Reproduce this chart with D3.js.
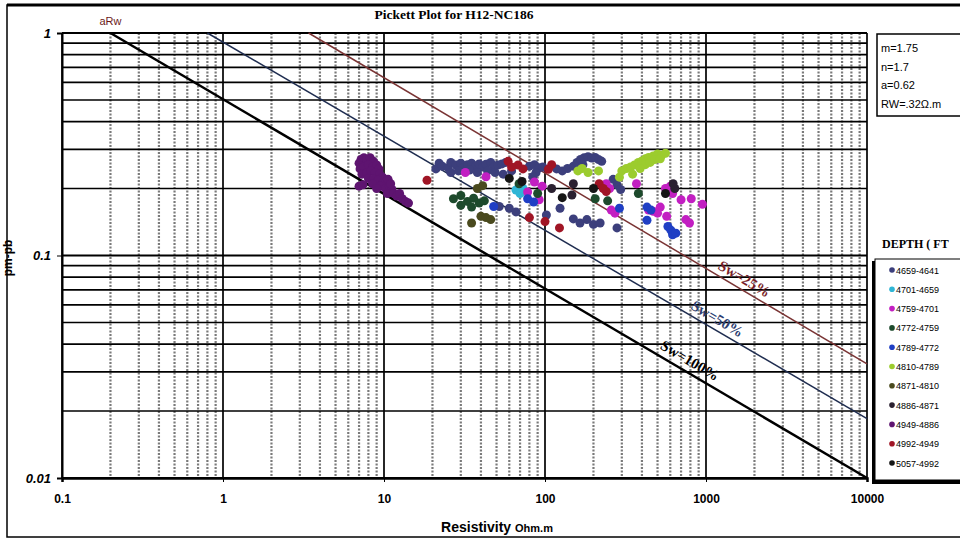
<!DOCTYPE html>
<html><head><meta charset="utf-8">
<script src="https://cdn.jsdelivr.net/npm/d3@7"></script>
<style>body{margin:0;background:#fff}svg{display:block}</style>
</head><body><svg id="c" width="960" height="540"></svg>
<script>
// ---------- data ----------
const title = "Pickett Plot for H12-NC186";
const xTicks = [0.1, 1, 10, 100, 1000, 10000];
const xTickLabels = ["0.1", "1", "10", "100", "1000", "10000"];
const yTicks = [1, 0.1, 0.01];
const yTickLabels = ["1", "0.1", "0.01"];
const params = ["m=1.75", "n=1.7", "a=0.62", "RW=.32\u03A9.m"];
const categories = ["4659-4641","4701-4659","4759-4701","4772-4759","4789-4772","4810-4789","4871-4810","4886-4871","4949-4886","4992-4949","5057-4992"];
const colors = ["#3c3f7c","#2fb5d5","#c21fc2","#1d4a2c","#1f3fc4","#9ccc2e","#4a4a1e","#2a2030","#5e1470","#a01525","#151515"];
// Sw lines: [resistivity, porosity] end points
const sw100 = [[0.2, 1], [10000, 0.01]];
const sw50  = [[0.8, 1], [10000, 0.0185]];
const sw25  = [[3.4, 1], [10000, 0.0326]];
// scatter series: [resistivity, porosity]
const s1 = [[21,0.245],[22,0.26],[23,0.252],[25,0.248],[26,0.262],[28,0.255],[30,0.26],[31,0.248],[33,0.256],[35,0.26],[37,0.252],[39,0.258],[41,0.25],[43,0.257],[46,0.262],[48,0.25],[51,0.255],[54,0.258],[57,0.262],[26,0.236],[29,0.24],[34,0.242],[38,0.236],[44,0.24],[49,0.236],[55,0.232],[62,0.24],[80,0.252],[86,0.256],[92,0.248],[97,0.25],[88,0.236],[84,0.226],[118,0.245],[128,0.24],[138,0.246],[150,0.252],[158,0.262],[166,0.27],[175,0.275],[185,0.278],[195,0.274],[205,0.276],[215,0.27],[225,0.265],[172,0.256],[265,0.22],[280,0.208],[295,0.198],[52,0.166],[60,0.163],[66,0.157],[102,0.152],[124,0.163],[150,0.146],[165,0.14],[182,0.145],[200,0.138],[220,0.14],[280,0.133]];
const s2 = [[66,0.197],[70,0.19],[73,0.2]];
const s3 = [[32,0.236],[43,0.226],[78,0.193],[86,0.214],[92,0.178],[96,0.205],[240,0.21],[252,0.2],[258,0.16],[272,0.155],[370,0.21],[440,0.16],[470,0.158],[520,0.165],[560,0.2],[620,0.19],[700,0.178],[810,0.18],[950,0.17],[570,0.15],[750,0.145],[790,0.14],[500,0.155],[600,0.205]];
const s4 = [[27,0.18],[30,0.186],[33,0.175],[36,0.181],[39,0.172],[42,0.176],[30,0.168],[35,0.165],[69,0.21],[90,0.19],[205,0.18],[245,0.176],[380,0.19]];
const s5 = [[78,0.18],[85,0.174],[48,0.166],[290,0.163],[430,0.165],[455,0.16],[430,0.144],[580,0.135],[605,0.13],[620,0.124],[650,0.126]];
const s6 = [[160,0.24],[170,0.246],[185,0.236],[215,0.24],[290,0.225],[300,0.24],[320,0.246],[340,0.25],[360,0.255],[380,0.262],[400,0.266],[420,0.272],[440,0.276],[470,0.28],[500,0.286],[530,0.282],[560,0.288],[420,0.256],[450,0.262],[480,0.27],[390,0.246],[520,0.272],[350,0.232]];
const s7 = [[38,0.2],[41,0.206],[40,0.15],[43,0.148],[46,0.145],[35,0.14]];
const s8 = [[150,0.21],[147,0.187],[640,0.2],[625,0.21],[110,0.2]];
const s9 = [[7.0,0.26],[7.2,0.27],[7.5,0.275],[7.8,0.27],[8.2,0.275],[8.6,0.265],[7.1,0.245],[7.5,0.25],[8.0,0.255],[8.5,0.25],[9.0,0.255],[9.3,0.245],[7.3,0.232],[7.8,0.235],[8.3,0.24],[8.8,0.235],[9.4,0.232],[9.8,0.225],[8.0,0.222],[8.6,0.22],[9.2,0.218],[9.8,0.212],[10.3,0.215],[10.6,0.22],[7.0,0.205],[7.4,0.208],[8.5,0.21],[9.5,0.205],[10.2,0.2],[10.8,0.205],[11.2,0.198],[10.5,0.19],[11.5,0.19],[12.0,0.185],[12.5,0.19],[13.0,0.18],[13.6,0.175],[14.2,0.172],[11.0,0.21],[9.0,0.2]];
const s10 = [[18.5,0.218],[68,0.255],[73,0.245],[110,0.256],[105,0.244],[80,0.148],[100,0.142],[123,0.133],[217,0.21],[240,0.194],[230,0.2],[59,0.265],[62,0.25]];
const s11 = [[60,0.222],[72,0.215],[200,0.2],[128,0.182],[560,0.19]];
const series = [s1,s2,s3,s4,s5,s6,s7,s8,s9,s10,s11];

// ---------- drawing ----------
const svg = d3.select("#c");
const L = 62, R = 867, T = 33, B = 478;
const x = d3.scaleLog().domain([0.1, 10000]).range([L, R]);
const y = d3.scaleLog().domain([0.01, 1]).range([B, T]);

// outer frame
svg.append("rect").attr("x", 7).attr("y", 5).attr("width", 970).attr("height", 532)
  .attr("fill", "none").attr("stroke", "#000").attr("stroke-width", 1.5);
svg.append("line").attr("x1", 7).attr("x2", 960).attr("y1", 5).attr("y2", 5).attr("stroke", "#000").attr("stroke-width", 3);

// title
svg.append("text").attr("x", 454).attr("y", 19).attr("text-anchor", "middle")
  .style("font-family", "Liberation Serif, serif").style("font-weight", "bold").style("font-size", "13.5px").text(title);

// minor vertical grid
const xMinor = x.ticks().filter(v => !xTicks.includes(v));
svg.append("g").selectAll("line").data(xMinor).join("line")
  .attr("x1", d => x(d)).attr("x2", d => x(d)).attr("y1", T).attr("y2", B)
  .attr("stroke", "#7a7a7a").attr("stroke-width", 2.2).attr("stroke-dasharray", "2,1.5");
// horizontal grid (all)
const yAll = y.ticks();
svg.append("g").selectAll("line").data(yAll).join("line")
  .attr("x1", L).attr("x2", R).attr("y1", d => y(d)).attr("y2", d => y(d))
  .attr("stroke", "#000").attr("stroke-width", d => yTicks.includes(d) ? 2.2 : 1.7);
// major vertical grid
svg.append("g").selectAll("line").data(xTicks).join("line")
  .attr("x1", d => x(d)).attr("x2", d => x(d)).attr("y1", T).attr("y2", B)
  .attr("stroke", "#000").attr("stroke-width", 1.7);

// axes
const xAxis = d3.axisBottom(x).tickValues(xTicks).tickFormat((d, i) => xTickLabels[i]).tickSize(4).tickPadding(12);
const gx = svg.append("g").attr("transform", `translate(0,${B})`).call(xAxis);
gx.select(".domain").attr("stroke-width", 2.5);
gx.selectAll("text").style("font-family", "Liberation Sans, Arial, sans-serif").style("font-weight", "bold").style("font-size", "12px");
const yAxis = d3.axisLeft(y).tickValues(yTicks).tickFormat((d, i) => yTickLabels[i]).tickSize(5).tickPadding(6);
const gy = svg.append("g").attr("transform", `translate(${L},0)`).call(yAxis);
gy.select(".domain").attr("stroke-width", 2);
gy.selectAll("text").style("font-family", "Liberation Sans, Arial, sans-serif").style("font-weight", "bold").style("font-style", "italic").style("font-size", "13px");

// axis titles
const xt = svg.append("text").attr("x", 497).attr("y", 532).attr("text-anchor", "middle")
  .style("font-family", "Liberation Sans, Arial, sans-serif").style("font-weight", "bold");
xt.append("tspan").style("font-size", "14px").text("Resistivity ");
xt.append("tspan").style("font-size", "11px").text("Ohm.m");
svg.append("text").attr("transform", "translate(12,258) rotate(-90)").attr("text-anchor", "middle")
  .style("font-family", "Liberation Sans, Arial, sans-serif").style("font-weight", "bold").style("font-size", "12px").text("pm-pb");

// aRw label
svg.append("text").attr("x", x(0.2)).attr("y", 25).attr("text-anchor", "middle")
  .style("font-family", "Liberation Sans, Arial, sans-serif").style("font-size", "11px").attr("fill", "#6b1a1a").text("aRw");

// Sw lines
const line = d3.line().x(d => x(d[0])).y(d => y(d[1]));
const swDefs = [
  {d: sw100, c: "#000", w: 2.5, label: "Sw=100%", at: 684, off: -10},
  {d: sw50, c: "#1f2d50", w: 1.5, label: "Sw=50%", at: 712, off: -9},
  {d: sw25, c: "#7a3434", w: 1.5, label: "Sw=25%", at: 739, off: -9}
];
swDefs.forEach(s => {
  svg.append("path").attr("d", line(s.d)).attr("fill", "none").attr("stroke", s.c).attr("stroke-width", s.w);
});

// scatter points
series.forEach((pts, i) => {
  svg.append("g").selectAll("circle").data(pts).join("circle")
    .attr("cx", d => x(d[0])).attr("cy", d => y(d[1])).attr("r", 4.5)
    .attr("fill", colors[i]);
});

// Sw labels (rotated along lines)
const labColors = ["#000", "#2c3e70", "#7a1f2a"];
swDefs.forEach((s, i) => {
  const p0 = [x(s.d[0][0]), y(s.d[0][1])], p1 = [x(s.d[1][0]), y(s.d[1][1])];
  const ang = Math.atan2(p1[1] - p0[1], p1[0] - p0[0]) * 180 / Math.PI;
  const t = (s.at - p0[0]) / (p1[0] - p0[0]);
  const py = p0[1] + t * (p1[1] - p0[1]);
  svg.append("text").attr("transform", `translate(${s.at},${py}) rotate(${ang}) translate(0,${s.off})`)
    .attr("text-anchor", "middle").attr("dominant-baseline", "middle")
    .style("font-family", "Liberation Serif, serif").style("font-size", "15px").style("font-weight", "bold")
    .attr("fill", labColors[i]).text(s.label);
});

// parameter box
svg.append("rect").attr("x", 877).attr("y", 34).attr("width", 100).attr("height", 82)
  .attr("fill", "#fff").attr("stroke", "#000").attr("stroke-width", 1.5);
svg.append("g").selectAll("text").data(params).join("text")
  .attr("x", 881).attr("y", (d, i) => 52 + i * 18.5)
  .style("font-family", "Liberation Sans, Arial, sans-serif").style("font-size", "11px").text(d => d);

// legend
svg.append("text").attr("x", 882).attr("y", 248)
  .style("font-family", "Liberation Serif, serif").style("font-weight", "bold").style("font-size", "12px").text("DEPTH ( FT");
svg.append("rect").attr("x", 872).attr("y", 261).attr("width", 100).attr("height", 223).attr("fill", "#000");
svg.append("rect").attr("x", 875).attr("y", 259).attr("width", 100).attr("height", 221)
  .attr("fill", "#fff").attr("stroke", "#000").attr("stroke-width", 1);
const lg = svg.append("g").selectAll("g").data(categories).join("g")
  .attr("transform", (d, i) => `translate(892,${270 + i * 19.3})`);
lg.append("circle").attr("r", 2.8).attr("fill", (d, i) => colors[i]);
lg.append("text").attr("x", 4).attr("y", 3.5)
  .style("font-family", "Liberation Sans, Arial, sans-serif").style("font-size", "9px").text(d => d);
</script></body></html>
